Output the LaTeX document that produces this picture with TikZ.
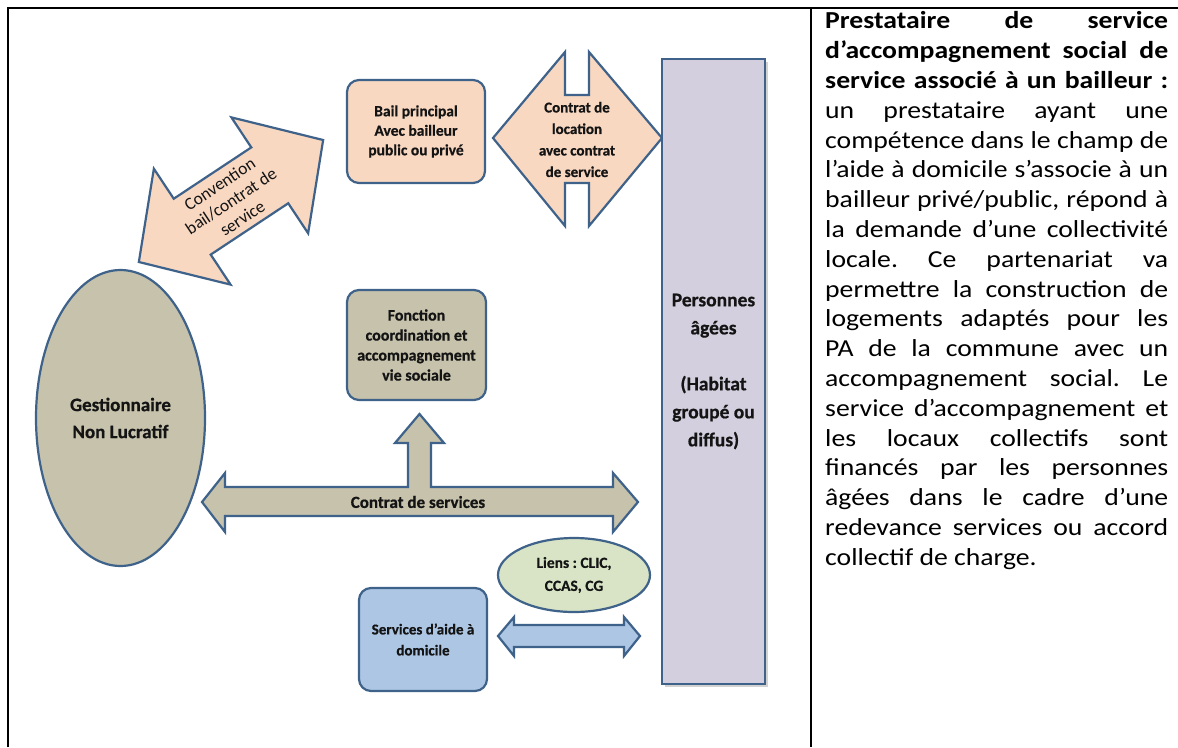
\documentclass[tikz,border=0pt]{standalone}
\usepackage{fontspec}
\setmainfont{Carlito}
\newfontfamily\bodyfont[FakeStretch=1.135]{Carlito}
\newfontfamily\diagfont[BoldFeatures={FakeBold=0.6}]{Carlito}
\usetikzlibrary{shapes.geometric,shadows}
\definecolor{bordc}{HTML}{3E6289}
\definecolor{peach}{HTML}{F9D8C2}
\definecolor{khaki}{HTML}{C6C2AC}
\definecolor{lav}{HTML}{D3CFDE}
\definecolor{lgreen}{HTML}{D8E4C5}
\definecolor{lblue}{HTML}{ADC6E4}
\definecolor{ink}{HTML}{141414}
\frenchspacing
\tikzset{
  shapeline/.style={draw=bordc, line width=2.2pt, line join=miter},
  rbox/.style={shapeline, rectangle, rounded corners=12pt, inner sep=0pt, align=center, text=ink,
    font=\diagfont\bfseries\fontsize{15.5}{19.5}\selectfont},
  oval/.style={shapeline, ellipse, inner sep=0pt, align=center, text=ink},
  arrowtext/.style={inner sep=0pt, align=center, text=ink},
  tableline/.style={draw=black, line width=2.2pt}
}
\begin{document}
\begin{tikzpicture}[x=1pt,y=-1pt]
\useasboundingbox (0,0) rectangle (1178,747);
\fill[white] (0,0) rectangle (1178,747);

% table frame
\coordinate (tl) at (8,8);
\coordinate (tr) at (1178,8);
\coordinate (bl) at (8,747);
\coordinate (mt) at (811,8);
\coordinate (mb) at (811,747);
\draw[tableline] (bl) -- (tl) -- (tr);
\draw[tableline] (mt) -- (mb);

% Convention double arrow (diagonal)
\begin{scope}[shift={(231,201)}, rotate=33.5]
\filldraw[shapeline, fill=peach]
  (110.5,0) -- (46.5,69.5) -- (46.5,33.5) -- (-46.5,33.5) -- (-46.5,69.5)
  -- (-110.5,0) -- (-46.5,-69.5) -- (-46.5,-33.5) -- (46.5,-33.5) -- (46.5,-69.5) -- cycle;
\end{scope}
\node[arrowtext, rotate=33.5, font=\diagfont\fontsize{17.5}{20.5}\selectfont] (conv) at (231,201)
  {Convention\\bail/contrat de\\service};

% Contrat de location left-right arrow
\filldraw[shapeline, fill=peach]
  (493,138) -- (565,52) -- (565,95) -- (589,95) -- (589,52) -- (662,138)
  -- (589,226) -- (589,183) -- (565,183) -- (565,226) -- cycle;
\node[arrowtext, font=\diagfont\bfseries\fontsize{15}{21.5}\selectfont] (loc) at (577,139.5)
  {Contrat de\\location\\avec contrat\\de service};

% Contrat de services arrow with branch up
\filldraw[shapeline, fill=khaki]
  (202,502) -- (225,473) -- (225,487) -- (408,487) -- (408,443) -- (395,443)
  -- (419.5,414) -- (444,443) -- (431,443) -- (431,487) -- (613,487) -- (613,473)
  -- (638,502) -- (613,532) -- (613,516) -- (225,516) -- (225,532) -- cycle;
\node[arrowtext, font=\diagfont\bfseries\fontsize{17}{20}\selectfont] (cs) at (418,502)
  {Contrat de services};

% Services double arrow
\filldraw[shapeline, fill=lblue]
  (498,636) -- (514,617) -- (514,625) -- (624,625) -- (624,617) -- (640,636)
  -- (624,656) -- (624,647) -- (514,647) -- (514,656) -- cycle;

% boxes
\node[rbox, fill=peach, minimum width=138pt, minimum height=103pt] (bail) at (416,131.5)
  {Bail principal\\Avec bailleur\\public ou privé};
\node[rbox, fill=khaki, minimum width=139pt, minimum height=110pt,
  font=\diagfont\bfseries\fontsize{16}{20}\selectfont] (fonc) at (416.5,345)
  {Fonction\\coordination et\\accompagnement\\vie sociale};
\node[rbox, fill=lblue, minimum width=128pt, minimum height=103pt,
  font=\diagfont\bfseries\fontsize{15}{21}\selectfont] (serv) at (423,639.5)
  {Services d’aide à\\domicile};
\node[oval, fill=lgreen, minimum width=152pt, minimum height=74pt,
  font=\diagfont\bfseries\fontsize{15.5}{23}\selectfont] (liens) at (574,575)
  {Liens : CLIC,\\CCAS, CG};
\node[oval, fill=khaki, minimum width=169pt, minimum height=296pt,
  font=\diagfont\bfseries\fontsize{19}{27}\selectfont] (gest) at (120.5,418)
  {Gestionnaire\\Non Lucratif};
\node[shapeline, rectangle, fill=lav, minimum width=103pt, minimum height=625pt, inner sep=0pt,
  align=center, text=ink, drop shadow={shadow xshift=2.5pt, shadow yshift=-2.5pt, opacity=0.35},
  font=\diagfont\bfseries\fontsize{19.5}{28}\selectfont] (pers) at (713.5,371.5)
  {Personnes\\âgées\\\mbox{}\\(Habitat\\groupé ou\\diffus)};

% right-hand text
\node[anchor=north west, inner sep=0pt, align=left, text=black,
  font=\bodyfont\fontsize{24.4}{29.8}\selectfont] (txt) at (825,11.5) {%
\makebox[343pt][s]{\bfseries Prestataire de service}\\
\makebox[343pt][s]{\bfseries d’accompagnement social de}\\
\makebox[343pt][s]{\bfseries service associé à un bailleur :}\\
\makebox[343pt][s]{un prestataire ayant une}\\
\makebox[343pt][s]{compétence dans le champ de}\\
\makebox[343pt][s]{l’aide à domicile s’associe à un}\\
\makebox[343pt][s]{bailleur privé/public, répond à}\\
\makebox[343pt][s]{la demande d’une collectivité}\\
\makebox[343pt][s]{locale. Ce partenariat va}\\
\makebox[343pt][s]{permettre la construction de}\\
\makebox[343pt][s]{logements adaptés pour les}\\
\makebox[343pt][s]{PA de la commune avec un}\\
\makebox[343pt][s]{accompagnement social. Le}\\
\makebox[343pt][s]{service d’accompagnement et}\\
\makebox[343pt][s]{les locaux collectifs sont}\\
\makebox[343pt][s]{financés par les personnes}\\
\makebox[343pt][s]{âgées dans le cadre d’une}\\
\makebox[343pt][s]{redevance services ou accord}\\
collectif de charge.};
\end{tikzpicture}
\end{document}
